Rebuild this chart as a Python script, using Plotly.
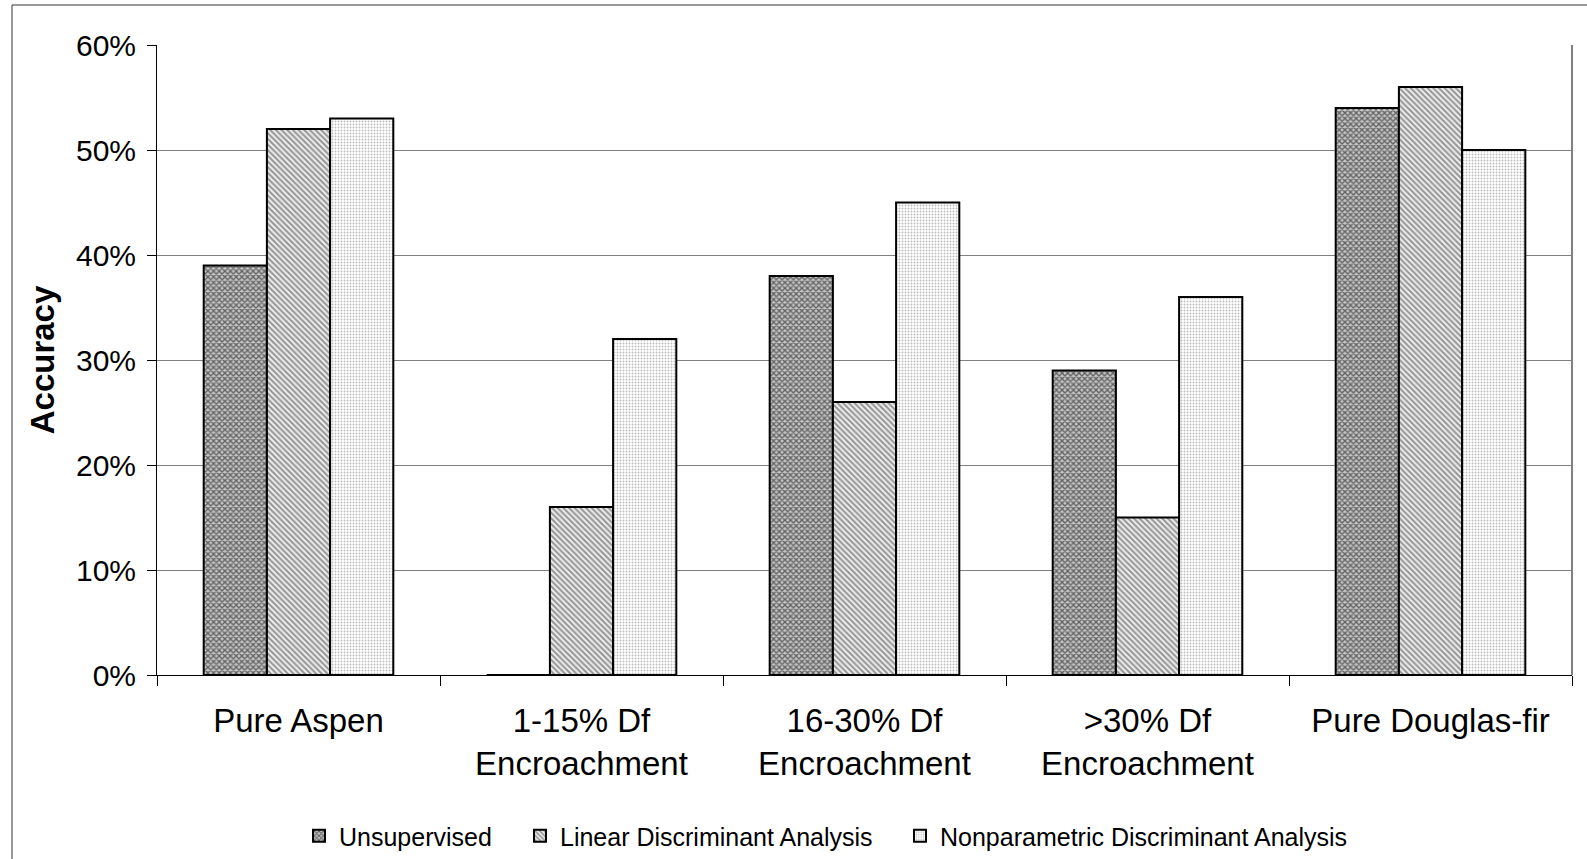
import plotly.graph_objects as go

categories = [
    "Pure Aspen",
    "1-15% Df<br>Encroachment",
    "16-30% Df<br>Encroachment",
    ">30% Df<br>Encroachment",
    "Pure Douglas-fir",
]
unsupervised = [0.39, 0.00, 0.38, 0.29, 0.54]
lda = [0.52, 0.16, 0.26, 0.15, 0.56]
nda = [0.53, 0.32, 0.45, 0.36, 0.50]
y_ticks = [0, 0.1, 0.2, 0.3, 0.4, 0.5, 0.6]

W, H = 1587, 859
L, R, T, B = 157, 15, 45, 184
pw, ph = W - L - R, H - T - B

font = "Liberation Sans, Arial, sans-serif"

series = [
    ("Unsupervised", unsupervised,
     dict(shape="x", fgcolor="#000000", bgcolor="#c4c4c4", size=4, solidity=0.55)),
    ("Linear Discriminant Analysis", lda,
     dict(shape="\\", fgcolor="#3c3c3c", bgcolor="#eeeeee", size=4, solidity=0.5)),
    ("Nonparametric Discriminant Analysis", nda,
     dict(shape=".", fgcolor="#7a7a7a", bgcolor="#ffffff", size=3, solidity=0.3)),
]

# one legend per series so each entry sits at its own left edge (px)
legend_ids = ["legend", "legend2", "legend3"]
legend_left_px = [299, 520, 900]

fig = go.Figure()
for (name, vals, pat), lid in zip(series, legend_ids):
    fig.add_trace(go.Bar(
        name=name, x=categories, y=vals, legend=lid,
        marker=dict(color=pat["bgcolor"], pattern=pat,
                    line=dict(color="black", width=2)),
    ))

legend_layout = {}
for lid, px in zip(legend_ids, legend_left_px):
    legend_layout[lid] = dict(
        orientation="h", x=(px - L) / pw, xanchor="left",
        yref="container", y=1 - 836 / H, yanchor="middle",
        font=dict(size=25, family=font), bgcolor="rgba(0,0,0,0)",
    )

# plot-area right border and outer frame
shapes = [
    dict(type="line", xref="paper", yref="paper", x0=1, x1=1, y0=0, y1=1,
         line=dict(color="#808080", width=2)),
    dict(type="line", xref="paper", yref="paper",
         x0=(12 - L) / pw, x1=(12 - L) / pw, y0=1 + (T - 5) / ph, y1=-(B + 5) / ph,
         line=dict(color="#333333", width=1)),
    dict(type="line", xref="paper", yref="paper",
         x0=(12 - L) / pw, x1=1 + (R + 5) / pw, y0=1 + (T - 5) / ph, y1=1 + (T - 5) / ph,
         line=dict(color="#333333", width=1)),
]

fig.update_layout(
    width=W, height=H,
    margin=dict(l=L, r=R, t=T, b=B, autoexpand=False),
    paper_bgcolor="white", plot_bgcolor="white",
    barmode="group", bargap=0.33, bargroupgap=0,
    font=dict(family=font, color="black"),
    shapes=shapes,
    showlegend=True,
    xaxis=dict(
        tickson="boundaries", ticks="outside", ticklen=10, tickcolor="black",
        tickfont=dict(size=33), showline=True, linecolor="black", linewidth=1,
        ticklabelstandoff=16, automargin=False,
    ),
    yaxis=dict(
        range=[0, 0.6], tickvals=y_ticks, tickformat=".0%",
        ticks="outside", ticklen=9, tickcolor="black",
        tickfont=dict(size=30), showline=True, linecolor="black", linewidth=1,
        showgrid=True, gridcolor="#808080", gridwidth=1, zeroline=False,
        ticklabelstandoff=5, automargin=False,
        title=dict(text="<b>Accuracy</b>", font=dict(size=33), standoff=11),
    ),
    **legend_layout,
)

fig.write_html("out.html")
